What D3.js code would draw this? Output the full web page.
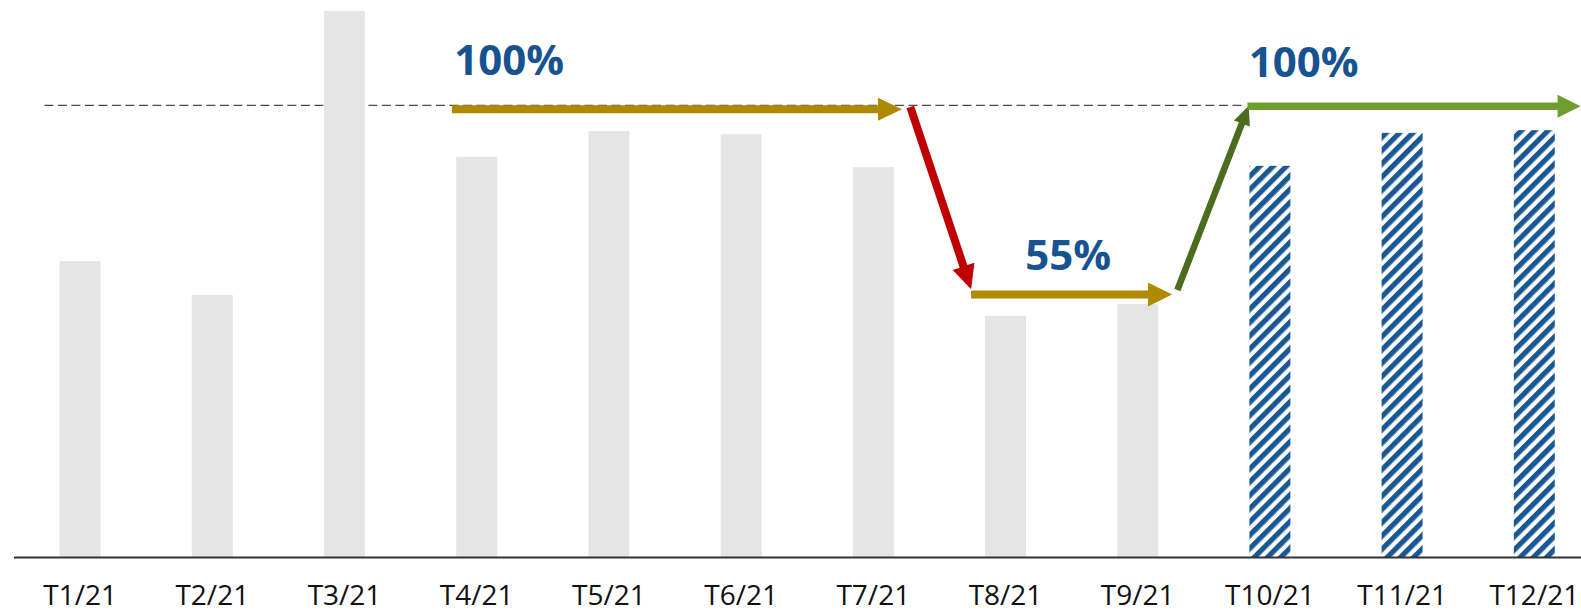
<!DOCTYPE html>
<html>
<head>
<meta charset="utf-8">
<script src="https://cdn.jsdelivr.net/npm/d3@7"></script>
<style>
  html, body { margin: 0; padding: 0; background: #fff; overflow: hidden; }
  svg { display: block; }
</style>
</head>
<body>
<svg id="chart" width="1581" height="613"></svg>
<script>
// ---- data ----
const categories = ["T1/21","T2/21","T3/21","T4/21","T5/21","T6/21","T7/21","T8/21","T9/21","T10/21","T11/21","T12/21"];
const values = [65.5, 58.0, 120.9, 88.6, 94.3, 93.6, 86.3, 53.4, 56.0, 86.6, 93.9, 94.5];
const forecast = [false,false,false,false,false,false,false,false,false,true,true,true];
const referenceLevel = 100;
// arrows: positions as fractional category index and value level
const arrowsData = [
  { name: "flat1", x1: 2.813, y1: 99.1, x2: 6.217, y2: 99.1, color: "#AF8900", w: 8, hl: 24, hw: 23 },
  { name: "drop",  x1: 6.28,  y1: 99.6, x2: 6.74,  y2: 59.3, color: "#C00000", w: 8, hl: 24, hw: 23 },
  { name: "flat2", x1: 6.74,  y1: 58.1, x2: 8.26,  y2: 58.1, color: "#AF8900", w: 8, hl: 24, hw: 24 },
  { name: "rise",  x1: 8.30,  y1: 59.1, x2: 8.84,  y2: 99.9, color: "#4B6B1E", w: 6.5, hl: 19, hw: 17 },
  { name: "flat3", x1: 8.83,  y1: 99.8, x2: 11.35, y2: 99.8, color: "#6F9E2F", w: 7.5, hl: 23, hw: 23 }
];
const labelsData = [
  { text: "100%", x: 2.83, y: 106.6 },
  { text: "55%",  x: 7.15, y: 63.6 },
  { text: "100%", x: 8.84, y: 106.2 }
];
const dashStart = -0.27, dashEnd = 8.81;

// ---- layout ----
const svg = d3.select("#chart");
const baseY = 557;
const x = d3.scaleBand().domain(categories).range([14, 14 + 132.2 * 12]).paddingInner(0.69).paddingOuter(0.345);
const y = d3.scaleLinear().domain([0, 100]).range([baseY, 105.3]);
const step = x.step();
const xi = i => x.range()[0] + step * (i + 0.5);

// pattern
const defs = svg.append("defs");
const pat = defs.append("pattern")
  .attr("id", "hatch").attr("patternUnits", "userSpaceOnUse")
  .attr("width", 9.4).attr("height", 9.4)
  .attr("patternTransform", "rotate(45)");
pat.append("rect").attr("width", 9.4).attr("height", 9.4).attr("fill", "#ffffff");
pat.append("rect").attr("width", 5.2).attr("height", 9.4).attr("fill", "#1A5894");

// dashed reference line
svg.append("line")
  .attr("x1", xi(dashStart)).attr("x2", xi(dashEnd))
  .attr("y1", y(referenceLevel)).attr("y2", y(referenceLevel))
  .attr("stroke", "#4a4a4a").attr("stroke-width", 1.3)
  .attr("stroke-dasharray", "9,4.5");

// bars
svg.selectAll("rect.bar").data(categories).join("rect")
  .attr("class", "bar")
  .attr("x", d => x(d))
  .attr("width", x.bandwidth())
  .attr("y", (d, i) => y(values[i]))
  .attr("height", (d, i) => baseY - y(values[i]))
  .attr("fill", (d, i) => forecast[i] ? "url(#hatch)" : "#E5E5E5");

// axis
const axis = d3.axisBottom(x).tickSize(0).tickPadding(0);
const gx = svg.append("g").attr("transform", `translate(0,${baseY})`).call(axis);
gx.select(".domain").remove();
svg.append("line").attr("x1", 14).attr("x2", 1581).attr("y1", baseY + 0.5).attr("y2", baseY + 0.5)
  .attr("stroke", "#333").attr("stroke-width", 2);
gx.selectAll(".tick text")
  .attr("font-family", "'Open Sans', sans-serif")
  .attr("font-size", 28)
  .attr("fill", "#111")
  .attr("dy", null)
  .attr("y", 48);

// arrows
function arrowPath(a) {
  const X1 = xi(a.x1), Y1 = y(a.y1), X2 = xi(a.x2), Y2 = y(a.y2);
  const dx = X2 - X1, dy = Y2 - Y1, L = Math.hypot(dx, dy);
  const ux = dx / L, uy = dy / L, px = -uy, py = ux;
  const bx = X2 - ux * a.hl, by = Y2 - uy * a.hl;
  const hw = a.w / 2, hh = a.hw / 2;
  const pts = [
    [X1 + px * hw, Y1 + py * hw],
    [bx + px * hw, by + py * hw],
    [bx + px * hh, by + py * hh],
    [X2, Y2],
    [bx - px * hh, by - py * hh],
    [bx - px * hw, by - py * hw],
    [X1 - px * hw, Y1 - py * hw]
  ];
  return "M" + pts.map(p => p[0].toFixed(2) + "," + p[1].toFixed(2)).join("L") + "Z";
}
svg.selectAll("path.arrow").data(arrowsData).join("path")
  .attr("class", "arrow")
  .attr("d", arrowPath)
  .attr("fill", d => d.color);

// labels
svg.selectAll("text.pct").data(labelsData).join("text")
  .attr("class", "pct")
  .attr("x", d => xi(d.x))
  .attr("y", d => y(d.y))
  .attr("font-family", "'Open Sans', sans-serif")
  .attr("font-weight", 700)
  .attr("font-size", 42)
  .attr("fill", "#17538F")
  .text(d => d.text);
</script>
</body>
</html>
